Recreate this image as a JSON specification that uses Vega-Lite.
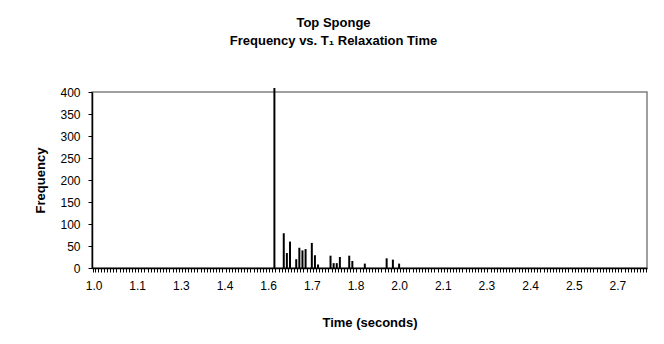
{
  "$schema": "https://vega.github.io/schema/vega-lite/v6.json",
  "width": 555,
  "height": 176,
  "autosize": {"type": "none"},
  "padding": {"left": 92, "top": 92, "right": 17, "bottom": 76},
  "background": "white",
  "title": {
    "text": "Top Sponge",
    "subtitle": "Frequency vs. T₁ Relaxation Time",
    "anchor": "middle",
    "dx": -36,
    "offset": 38,
    "font": "Liberation Sans",
    "fontSize": 13,
    "fontWeight": "bold",
    "color": "black",
    "subtitleFont": "Liberation Sans",
    "subtitleFontSize": 13,
    "subtitleFontWeight": "bold",
    "subtitleColor": "black",
    "subtitlePadding": 5
  },
  "data": {
    "values": [
      {"t":1.00,"f":0},{"t":1.01,"f":0},{"t":1.02,"f":0},{"t":1.03,"f":0},{"t":1.04,"f":0},{"t":1.05,"f":0},{"t":1.06,"f":0},{"t":1.07,"f":0},{"t":1.08,"f":0},{"t":1.09,"f":0},
      {"t":1.10,"f":0},{"t":1.11,"f":0},{"t":1.12,"f":0},{"t":1.13,"f":0},{"t":1.14,"f":0},{"t":1.15,"f":0},{"t":1.16,"f":0},{"t":1.17,"f":0},{"t":1.18,"f":0},{"t":1.19,"f":0},
      {"t":1.20,"f":0},{"t":1.21,"f":0},{"t":1.22,"f":0},{"t":1.23,"f":0},{"t":1.24,"f":0},{"t":1.25,"f":0},{"t":1.26,"f":0},{"t":1.27,"f":0},{"t":1.28,"f":0},{"t":1.29,"f":0},
      {"t":1.30,"f":0},{"t":1.31,"f":0},{"t":1.32,"f":0},{"t":1.33,"f":0},{"t":1.34,"f":0},{"t":1.35,"f":0},{"t":1.36,"f":0},{"t":1.37,"f":0},{"t":1.38,"f":0},{"t":1.39,"f":0},
      {"t":1.40,"f":0},{"t":1.41,"f":0},{"t":1.42,"f":0},{"t":1.43,"f":0},{"t":1.44,"f":0},{"t":1.45,"f":0},{"t":1.46,"f":0},{"t":1.47,"f":0},{"t":1.48,"f":0},{"t":1.49,"f":0},
      {"t":1.50,"f":0},{"t":1.51,"f":0},{"t":1.52,"f":0},{"t":1.53,"f":0},{"t":1.54,"f":0},{"t":1.55,"f":0},{"t":1.56,"f":0},{"t":1.57,"f":0},{"t":1.58,"f":409},{"t":1.59,"f":0},
      {"t":1.60,"f":0},{"t":1.61,"f":79},{"t":1.62,"f":34},{"t":1.63,"f":60},{"t":1.64,"f":0},{"t":1.65,"f":20},{"t":1.66,"f":46},{"t":1.67,"f":40},{"t":1.68,"f":43},{"t":1.69,"f":0},
      {"t":1.70,"f":57},{"t":1.71,"f":29},{"t":1.72,"f":8},{"t":1.73,"f":0},{"t":1.74,"f":0},{"t":1.75,"f":0},{"t":1.76,"f":28},{"t":1.77,"f":11},{"t":1.78,"f":11},{"t":1.79,"f":25},
      {"t":1.80,"f":0},{"t":1.81,"f":0},{"t":1.82,"f":28},{"t":1.83,"f":16},{"t":1.84,"f":0},{"t":1.85,"f":0},{"t":1.86,"f":0},{"t":1.87,"f":10},{"t":1.88,"f":0},{"t":1.89,"f":0},
      {"t":1.90,"f":0},{"t":1.91,"f":0},{"t":1.92,"f":0},{"t":1.93,"f":0},{"t":1.94,"f":22},{"t":1.95,"f":0},{"t":1.96,"f":19},{"t":1.97,"f":0},{"t":1.98,"f":10},{"t":1.99,"f":0},
      {"t":2.00,"f":0},{"t":2.01,"f":0},{"t":2.02,"f":0},{"t":2.03,"f":0},{"t":2.04,"f":0},{"t":2.05,"f":0},{"t":2.06,"f":0},{"t":2.07,"f":0},{"t":2.08,"f":0},{"t":2.09,"f":0},
      {"t":2.10,"f":0},{"t":2.11,"f":0},{"t":2.12,"f":0},{"t":2.13,"f":0},{"t":2.14,"f":0},{"t":2.15,"f":0},{"t":2.16,"f":0},{"t":2.17,"f":0},{"t":2.18,"f":0},{"t":2.19,"f":0},
      {"t":2.20,"f":0},{"t":2.21,"f":0},{"t":2.22,"f":0},{"t":2.23,"f":0},{"t":2.24,"f":0},{"t":2.25,"f":0},{"t":2.26,"f":0},{"t":2.27,"f":0},{"t":2.28,"f":0},{"t":2.29,"f":0},
      {"t":2.30,"f":0},{"t":2.31,"f":0},{"t":2.32,"f":0},{"t":2.33,"f":0},{"t":2.34,"f":0},{"t":2.35,"f":0},{"t":2.36,"f":0},{"t":2.37,"f":0},{"t":2.38,"f":0},{"t":2.39,"f":0},
      {"t":2.40,"f":0},{"t":2.41,"f":0},{"t":2.42,"f":0},{"t":2.43,"f":0},{"t":2.44,"f":0},{"t":2.45,"f":0},{"t":2.46,"f":0},{"t":2.47,"f":0},{"t":2.48,"f":0},{"t":2.49,"f":0},
      {"t":2.50,"f":0},{"t":2.51,"f":0},{"t":2.52,"f":0},{"t":2.53,"f":0},{"t":2.54,"f":0},{"t":2.55,"f":0},{"t":2.56,"f":0},{"t":2.57,"f":0},{"t":2.58,"f":0},{"t":2.59,"f":0},
      {"t":2.60,"f":0},{"t":2.61,"f":0},{"t":2.62,"f":0},{"t":2.63,"f":0},{"t":2.64,"f":0},{"t":2.65,"f":0},{"t":2.66,"f":0},{"t":2.67,"f":0},{"t":2.68,"f":0},{"t":2.69,"f":0},
      {"t":2.70,"f":0},{"t":2.71,"f":0},{"t":2.72,"f":0},{"t":2.73,"f":0},{"t":2.74,"f":0},{"t":2.75,"f":0},{"t":2.76,"f":0},{"t":2.77,"f":0}
    ]
  },
  "mark": {"type": "bar", "color": "black", "clip": false},
  "encoding": {
    "x": {
      "field": "t",
      "type": "ordinal",
      "sort": "ascending",
      "scale": {"paddingInner": 0.36, "paddingOuter": 0.18},
      "axis": {
        "title": "Time (seconds)",
        "labelAngle": 0,
        "labelOverlap": false,
        "labelExpr": "round((datum.value - 1) * 100) % 14 == 0 ? format(datum.value, '.1f') : ''",
        "tickBand": "extent",
        "tickSize": 4,
        "labelPadding": 8,
        "titlePadding": 25
      }
    },
    "y": {
      "field": "f",
      "type": "quantitative",
      "scale": {"domain": [0, 400], "nice": false},
      "axis": {
        "title": "Frequency",
        "values": [0, 50, 100, 150, 200, 250, 300, 350, 400],
        "grid": false,
        "tickSize": 4,
        "labelPadding": 8,
        "titlePadding": 12
      }
    }
  },
  "config": {
    "font": "Liberation Sans",
    "view": {"stroke": "#808080", "strokeWidth": 1.5},
    "axis": {
      "domainColor": "black",
      "domainWidth": 1.5,
      "tickColor": "black",
      "labelColor": "black",
      "labelFont": "Liberation Sans",
      "labelFontSize": 12,
      "titleFont": "Liberation Sans",
      "titleFontSize": 13,
      "titleFontWeight": "bold",
      "titleColor": "black"
    }
  }
}
